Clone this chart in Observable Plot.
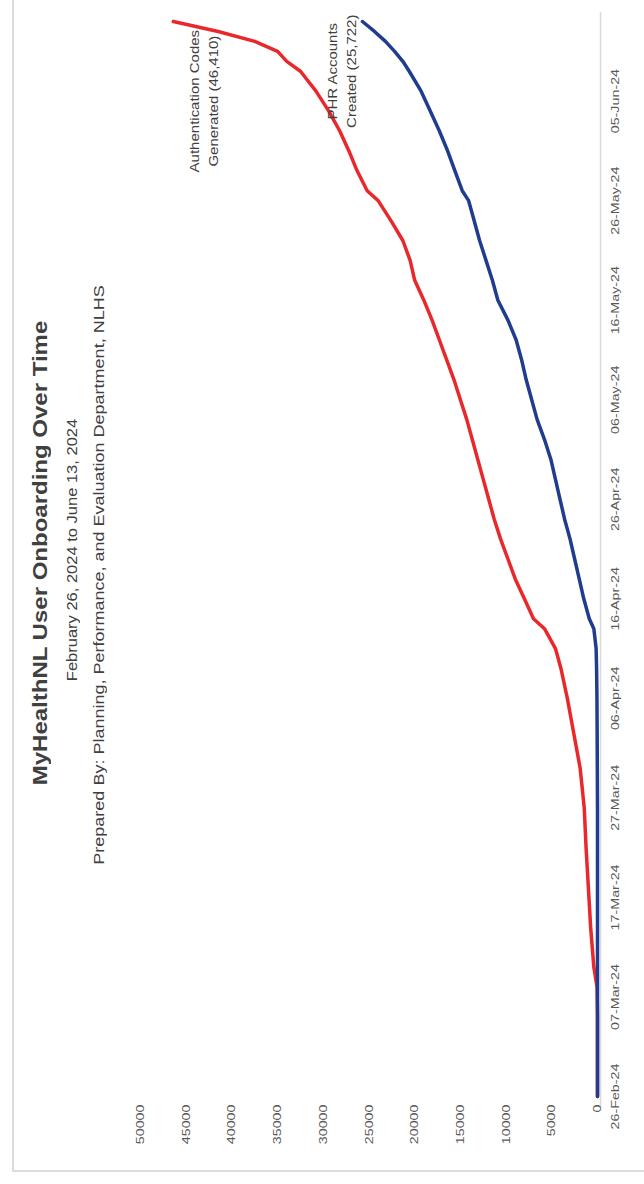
<!DOCTYPE html>
<html><head><meta charset="utf-8">
<script src="https://cdn.jsdelivr.net/npm/d3@7"></script>
<script src="https://cdn.jsdelivr.net/npm/@observablehq/plot@0.6"></script>
<style>
html,body{margin:0;padding:0;background:#fff;overflow:hidden;}
body{width:644px;height:1184px;position:relative;}
#land{position:absolute;left:0;top:0;width:1184px;height:644px;transform-origin:0 0;transform:translate(0px,1184px) rotate(-90deg);font-family:"Liberation Sans",Arial,sans-serif;}
#frame{position:absolute;left:12px;top:12px;width:1300px;height:800px;border-left:2px solid #dcdcdc;border-top:2px solid #dcdcdc;}
.t{position:absolute;width:1000px;text-align:center;color:#404040;white-space:nowrap;line-height:1;transform-origin:50% 50%;}
#title{left:131px;top:30px;font-size:20px;font-weight:bold;transform:scaleX(1.2);}
#sub1{left:134px;top:64px;font-size:15px;transform:scaleX(1.1);}
#sub2{left:109px;top:91px;font-size:15px;transform:scaleX(1.2);}
#chart{position:absolute;left:0;top:0;}
</style>
</head><body>
<div id="land">
  <div id="frame"></div>
  <div class="t" id="title"></div>
  <div class="t" id="sub1"></div>
  <div class="t" id="sub2"></div>
  <div id="chart"></div>
</div>
<script>
const titleText = "MyHealthNL User Onboarding Over Time";
const subtitleText = "February 26, 2024 to June 13, 2024";
const preparedText = "Prepared By: Planning, Performance, and Evaluation Department, NLHS";

const dates = ["2024-02-26","2024-03-05","2024-03-08","2024-03-10","2024-03-14","2024-03-18","2024-03-22","2024-03-26","2024-03-30","2024-04-03","2024-04-06","2024-04-09","2024-04-11","2024-04-13","2024-04-14","2024-04-16","2024-04-18","2024-04-20","2024-04-22","2024-04-24","2024-04-26","2024-04-28","2024-04-30","2024-05-02","2024-05-04","2024-05-06","2024-05-08","2024-05-10","2024-05-12","2024-05-14","2024-05-16","2024-05-18","2024-05-20","2024-05-22","2024-05-24","2024-05-26","2024-05-27","2024-05-29","2024-05-31","2024-06-02","2024-06-04","2024-06-06","2024-06-08","2024-06-09","2024-06-10","2024-06-11","2024-06-12","2024-06-13"];
const authCodes = [0,0,50,400,750,1000,1250,1450,1900,2700,3300,4000,4600,5800,7000,8000,9000,9800,10600,11300,11900,12500,13100,13700,14300,15000,15700,16500,17300,18100,19000,20000,20500,21300,22600,24000,25200,26300,27200,28200,29400,30800,32500,34000,35000,37500,41500,46410];
const phrAccounts = [0,0,0,0,0,0,0,0,20,40,60,100,150,400,900,1500,2000,2500,3000,3600,4100,4600,5100,5800,6600,7200,7800,8300,8900,9800,10900,11500,12200,12900,13500,14100,14800,15600,16400,17300,18300,19300,20600,21300,22200,23200,24400,25722];

const xTickDates = ["2024-02-26","2024-03-07","2024-03-17","2024-03-27","2024-04-06","2024-04-16","2024-04-26","2024-05-06","2024-05-16","2024-05-26","2024-06-05"];
const yTicks = [0,5000,10000,15000,20000,25000,30000,35000,40000,45000,50000];

const seriesLabels = ["Authentication Codes\nGenerated (46,410)", "PHR Accounts\nCreated (25,722)"];
const labelDates = ["2024-06-05", "2024-06-08"];
const labelValues = [43200, 28100];

document.getElementById("title").textContent = titleText;
document.getElementById("sub1").textContent = subtitleText;
document.getElementById("sub2").textContent = preparedText;

const parse = d3.utcParse("%Y-%m-%d");
const rows = dates.map((d, i) => ({date: parse(d), auth: authCodes[i], phr: phrAccounts[i]}));
const labels = seriesLabels.map((t, i) => ({text: t, date: parse(labelDates[i]), value: labelValues[i]}));

const chart = Plot.plot({
  width: 1184,
  height: 644,
  marginLeft: 87,
  marginRight: 22,
  marginTop: 140,
  marginBottom: 47,
  style: {fontFamily: '"Liberation Sans",Arial,sans-serif', fontSize: "11px", color: "#595959", background: "transparent"},
  x: {type: "utc", domain: [parse("2024-02-26"), parse("2024-06-13")]},
  y: {domain: [0, 50000]},
  marks: [
    Plot.ruleY([0], {stroke: "#d9d9d9", strokeWidth: 1.5, dy: 3, x1: parse("2024-02-25"), x2: parse("2024-06-14")}),
    Plot.axisX({ticks: xTickDates.map(parse), tickFormat: d3.utcFormat("%d-%b-%y"), tickSize: 0, tickPadding: 14, label: null}),
    Plot.axisY({ticks: yTicks, tickFormat: d3.format("d"), tickSize: 0, tickPadding: 8, label: null}),
    Plot.lineY(rows, {x: "date", y: "auth", stroke: "#e8282b", strokeWidth: 3.5}),
    Plot.lineY(rows, {x: "date", y: "phr", stroke: "#1f3c8e", strokeWidth: 3.5}),
    Plot.text(labels, {x: "date", y: "value", text: "text", fontSize: 12.5, fill: "#404040", lineHeight: 1.45})
  ]
});

// the reference text is stretched along its reading direction
const isNum = v => v != null && /^-?[\d.]+$/.test(v.trim());
function stretch(el, s) {
  const tr = el.getAttribute("transform") || "";
  let extra = "";
  const x = el.getAttribute("x"), y = el.getAttribute("y");
  if (isNum(x) || isNum(y)) {
    const tx = isNum(x) ? +x : 0, ty = isNum(y) ? +y : 0;
    if (isNum(x)) el.removeAttribute("x");
    if (isNum(y)) el.removeAttribute("y");
    extra = ` translate(${tx},${ty})`;
  }
  el.setAttribute("transform", `${tr}${extra} scale(${s},1)`);
}
chart.querySelectorAll('g[aria-label="x-axis tick label"] text, g[aria-label="y-axis tick label"] text').forEach(t => stretch(t, 1.3));
chart.querySelectorAll('g[aria-label="text"] text').forEach(t => stretch(t, 1.2));

document.getElementById("chart").appendChild(chart);
</script>
</body></html>
